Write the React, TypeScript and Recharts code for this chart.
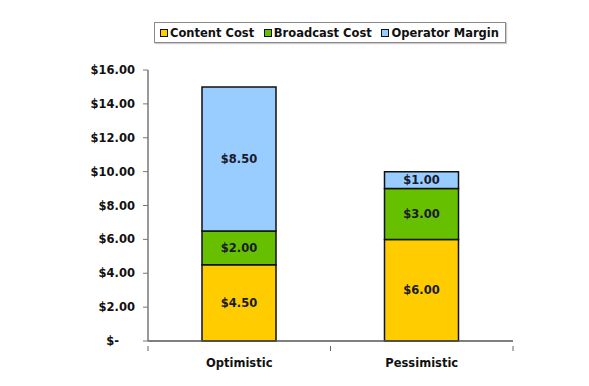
import { Bar, BarChart, LabelList, XAxis, YAxis } from 'recharts';

const CATEGORIES = ['Optimistic', 'Pessimistic'];
const CONTENT_COST = [4.5, 6.0];
const BROADCAST_COST = [2.0, 3.0];
const OPERATOR_MARGIN = [8.5, 1.0];
const Y_TICKS = [0, 2, 4, 6, 8, 10, 12, 14, 16];

const SERIES = [
  { key: 'content', name: 'Content Cost', color: '#ffcc00' },
  { key: 'broadcast', name: 'Broadcast Cost', color: '#66c000' },
  { key: 'margin', name: 'Operator Margin', color: '#99ccff' },
];

const data = CATEGORIES.map((c, i) => ({
  name: c,
  content: CONTENT_COST[i],
  broadcast: BROADCAST_COST[i],
  margin: OPERATOR_MARGIN[i],
}));

const FONT = '"DejaVu Sans", sans-serif';
const W = 589;
const H = 386;
const PLOT_LEFT = 148;
const PLOT_RIGHT = 76;
const BAND = (W - PLOT_LEFT - PLOT_RIGHT) / CATEGORIES.length;

const money = (v: number) => (v === 0 ? '$-' : `$${v.toFixed(2)}`);

function YTick({ x, y, payload }: any) {
  const v = payload.value as number;
  return (
    <text
      x={v === 0 ? x - 16 : x}
      y={y}
      dy={4}
      textAnchor="end"
      fontFamily={FONT}
      fontWeight={700}
      fontSize={11.5}
      fill="#111"
    >
      {money(v)}
    </text>
  );
}

function XTick({ x, y, payload, index }: any) {
  return (
    <g>
      <line x1={x - BAND / 2} x2={x - BAND / 2} y1={y - 3} y2={y + 2} stroke="#666" />
      {index === CATEGORIES.length - 1 && (
        <line x1={x + BAND / 2} x2={x + BAND / 2} y1={y - 3} y2={y + 2} stroke="#666" />
      )}
      <text
        x={x}
        y={y + 18}
        textAnchor="middle"
        fontFamily={FONT}
        fontWeight={700}
        fontSize={11.5}
        fill="#111"
      >
        {payload.value}
      </text>
    </g>
  );
}

function LegendBox() {
  return (
    <div
      style={{
        position: 'absolute',
        left: 154,
        top: 22,
        width: 339,
        height: 19,
        boxSizing: 'content-box',
        display: 'flex',
        alignItems: 'center',
        justifyContent: 'space-between',
        border: '1px solid #8a8a8a',
        padding: '0 6px 0 5px',
        boxShadow: '1px 1px 1px #ccc',
        fontFamily: FONT,
        fontWeight: 700,
        fontSize: 11.5,
        color: '#111',
        background: '#fff',
      }}
    >
      {SERIES.map((s) => (
        <span key={s.key} style={{ display: 'flex', alignItems: 'center', gap: 2 }}>
          <span
            style={{
              display: 'inline-block',
              width: 6,
              height: 6,
              background: s.color,
              border: '1.5px solid #111',
            }}
          />
          {s.name}
        </span>
      ))}
    </div>
  );
}

export default function App() {
  return (
    <div style={{ position: 'absolute', left: 0, top: 0, width: W, height: H, background: '#fff' }}>
      <BarChart
        width={W}
        height={H}
        data={data}
        margin={{ top: 70, right: PLOT_RIGHT, left: 0, bottom: 15 }}
        barSize={74}
      >
        <XAxis
          dataKey="name"
          axisLine={{ stroke: '#555', strokeWidth: 1.5 }}
          tickLine={false}
          tick={<XTick />}
          height={30}
          interval={0}
        />
        <YAxis
          width={PLOT_LEFT}
          domain={[0, 16]}
          ticks={Y_TICKS}
          axisLine={{ stroke: '#777', strokeWidth: 1.5 }}
          tickLine={{ stroke: '#777' }}
          tickSize={5}
          tick={<YTick />}
          tickMargin={8}
        />
        {SERIES.map((s) => (
          <Bar
            key={s.key}
            dataKey={s.key}
            name={s.name}
            stackId="a"
            fill={s.color}
            stroke="#111"
            strokeWidth={1.5}
            isAnimationActive={false}
          >
            <LabelList
              dataKey={s.key}
              position="center"
              formatter={(v: any) => money(Number(v))}
              style={{ fontFamily: FONT, fontWeight: 700, fontSize: 11.5, fill: '#1a1a2a' }}
            />
          </Bar>
        ))}
      </BarChart>
      <LegendBox />
    </div>
  );
}
